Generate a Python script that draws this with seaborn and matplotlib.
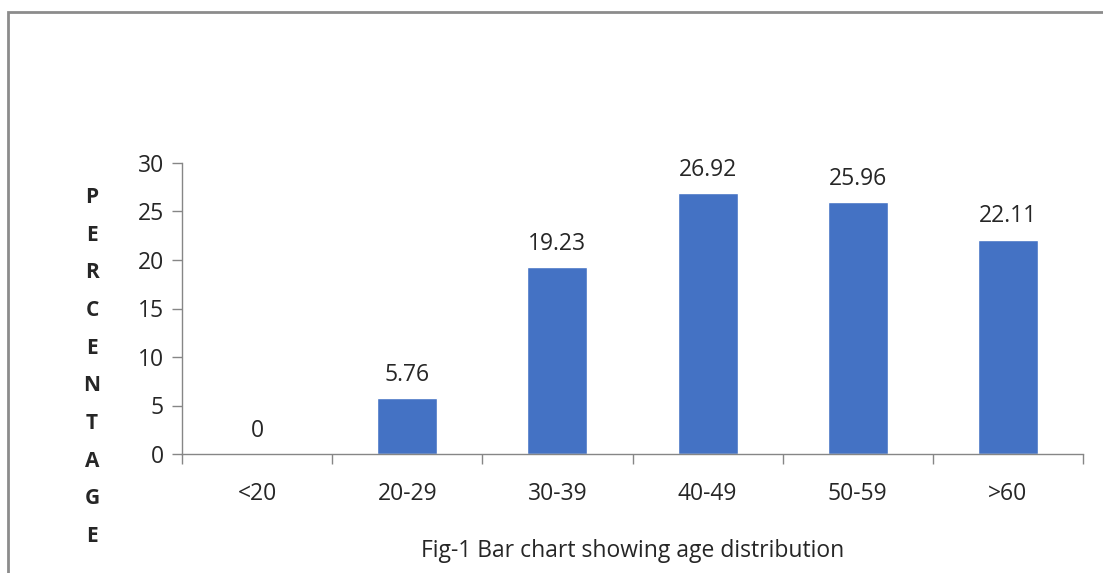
import matplotlib
matplotlib.use("Agg")
import matplotlib.pyplot as plt
from matplotlib.patches import Rectangle
import seaborn as sns
import pandas as pd

age_groups = ["<20", "20-29", "30-39", "40-49", "50-59", ">60"]
percentages = [0, 5.76, 19.23, 26.92, 25.96, 22.11]
y_ticks = [0, 5, 10, 15, 20, 25, 30]

sns.set_style("white")
plt.rcParams["font.family"] = ["Open Sans", "DejaVu Sans"]

df = pd.DataFrame({"age": age_groups, "pct": percentages})

fig = plt.figure(figsize=(11.03, 5.73), dpi=100)
ax = fig.add_axes([182 / 1103, 1 - 454 / 573, (1083 - 182) / 1103, (454 - 163) / 573])

sns.barplot(data=df, x="age", y="pct", color="#4472C4", width=0.4,
            saturation=1, ax=ax, order=age_groups)

ax.set_ylim(0, 30)
ax.set_xlim(-0.5, len(age_groups) - 0.5)
ax.set_yticks(y_ticks)
ax.set_yticklabels([str(t) for t in y_ticks], fontsize=16.5)

# Category labels at bar centres, tick marks at category boundaries
ax.set_xticks([i - 0.5 for i in range(len(age_groups) + 1)])
ax.set_xticklabels([])
ax.set_xticks(range(len(age_groups)), minor=True)
ax.set_xticklabels(age_groups, minor=True, fontsize=16.5)
ax.tick_params(axis="x", which="major", bottom=True, direction="out",
               length=7, color="#868686", width=1)
ax.tick_params(axis="x", which="minor", bottom=True, length=0, pad=20)
ax.tick_params(axis="y", left=True, direction="out", length=7,
               color="#868686", width=1, pad=6)

for side in ["top", "right"]:
    ax.spines[side].set_visible(False)
for side in ["left", "bottom"]:
    ax.spines[side].set_color("#868686")
    ax.spines[side].set_linewidth(1)

ax.bar_label(ax.containers[0], labels=[f"{v:g}" for v in percentages],
             padding=8, fontsize=16.5)

ax.set_ylabel("")
ax.set_xlabel("Fig-1 Bar chart showing age distribution", fontsize=16.5,
              labelpad=24)

fig.text(92 / 1103, 1 - 367 / 573, "\n".join("PERCENTAGE"), ha="center",
         va="center", fontsize=15, fontweight="bold", linespacing=2.04)

# Outer frame around the chart area
fig.patches.append(Rectangle((8 / 1103, -0.05), 1.2, 1 - 12 / 573 + 0.05,
                             transform=fig.transFigure, fill=False,
                             edgecolor="#8c8c8c", linewidth=2))

fig.savefig("out.png", dpi=100)
